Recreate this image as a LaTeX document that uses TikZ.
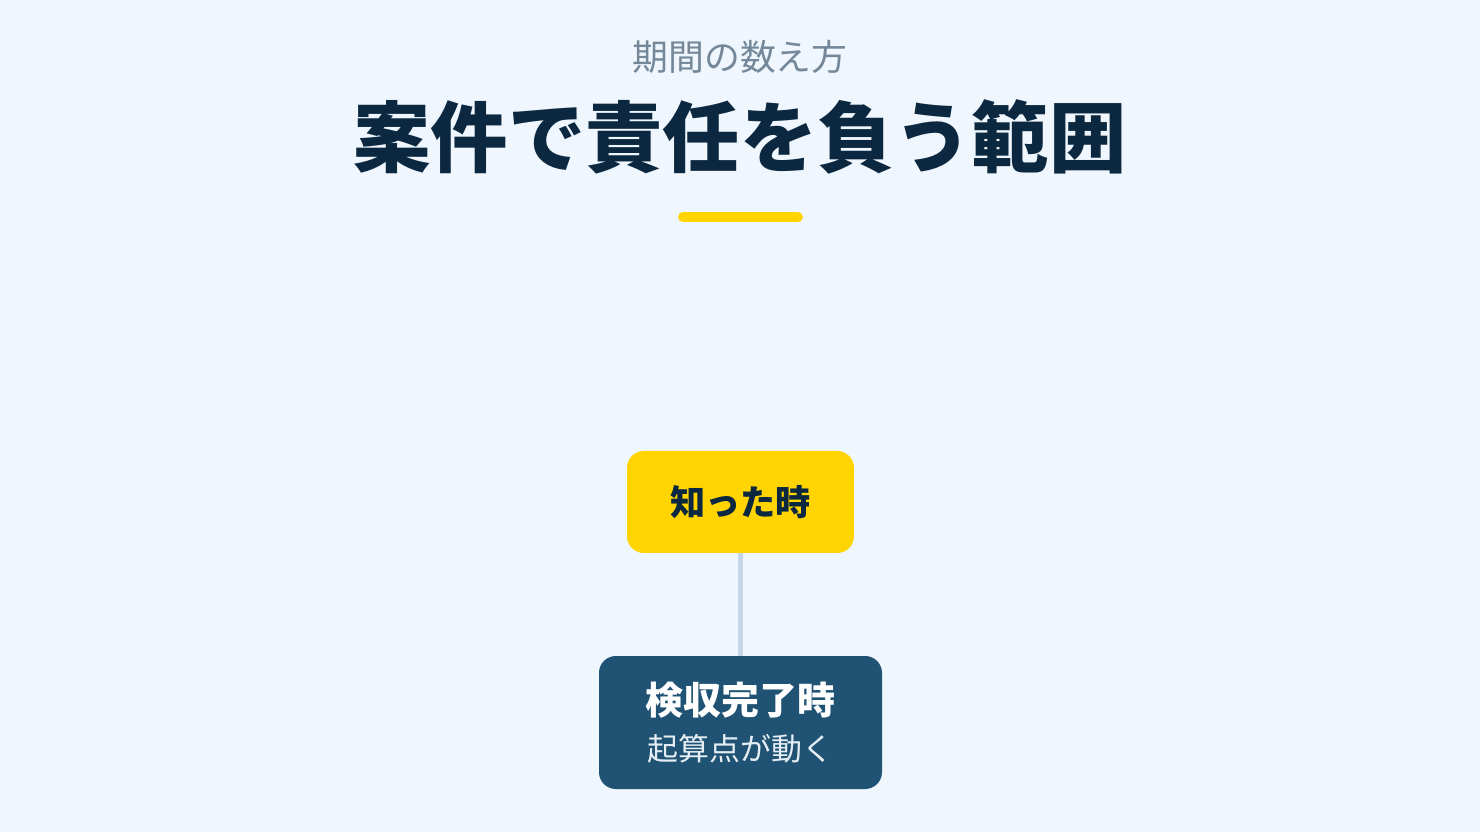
\documentclass[tikz,border=0pt]{standalone}
\usepackage{fontspec}
\setmainfont{Noto Sans CJK JP}
\usepackage{xcolor}
\usetikzlibrary{positioning}
\definecolor{bgpale}{HTML}{EFF6FD}
\definecolor{navyink}{HTML}{0B2840}
\definecolor{greyink}{HTML}{74889A}
\definecolor{markyellow}{HTML}{FFD400}
\definecolor{stepblue}{HTML}{1F5273}
\definecolor{linkgrey}{HTML}{C5D7E6}
\definecolor{paletext}{HTML}{E6EEF5}
\tikzset{
	pointbox/.style={rounded corners=12, inner sep=0pt, align=center},
	link/.style={draw=linkgrey, line width=3}
}

\begin{document}
\begin{tikzpicture}[x=0.25mm, y=-0.25mm]
			\fill[bgpale]	(0, 0) rectangle (1480, 832);

			\node[text=greyink, font=\fontsize{25.5}{30}\selectfont]	(subtitle) at (740, 57) {期間の数え方};
			\node[text=navyink, font=\fontsize{55}{64}\selectfont\bfseries]	(title) at (740, 137) {案件で責任を負う範囲};
			\draw[markyellow, line width=7, line cap=round]	(683, 217) -- (798, 217);

			\node[pointbox, fill=markyellow, minimum width=227*0.25mm, minimum height=102*0.25mm,
				text=navyink, font=\fontsize{25}{30}\selectfont\bfseries]	(known) at (740.5, 502) {知った時};
			\node[pointbox, fill=stepblue, minimum width=283*0.25mm, minimum height=133*0.25mm]	(accept) at (740.5, 722.5) {};
			\node[text=white, font=\fontsize{27}{32}\selectfont\bfseries]	(acceptmain) at (740.5, 700) {検収完了時};
			\node[text=paletext, font=\fontsize{22}{26}\selectfont]	(acceptsub) at (740.5, 749) {起算点が動く};

			\draw[link]	(known.south) -- (accept.north);
		\end{tikzpicture}
\end{document}
